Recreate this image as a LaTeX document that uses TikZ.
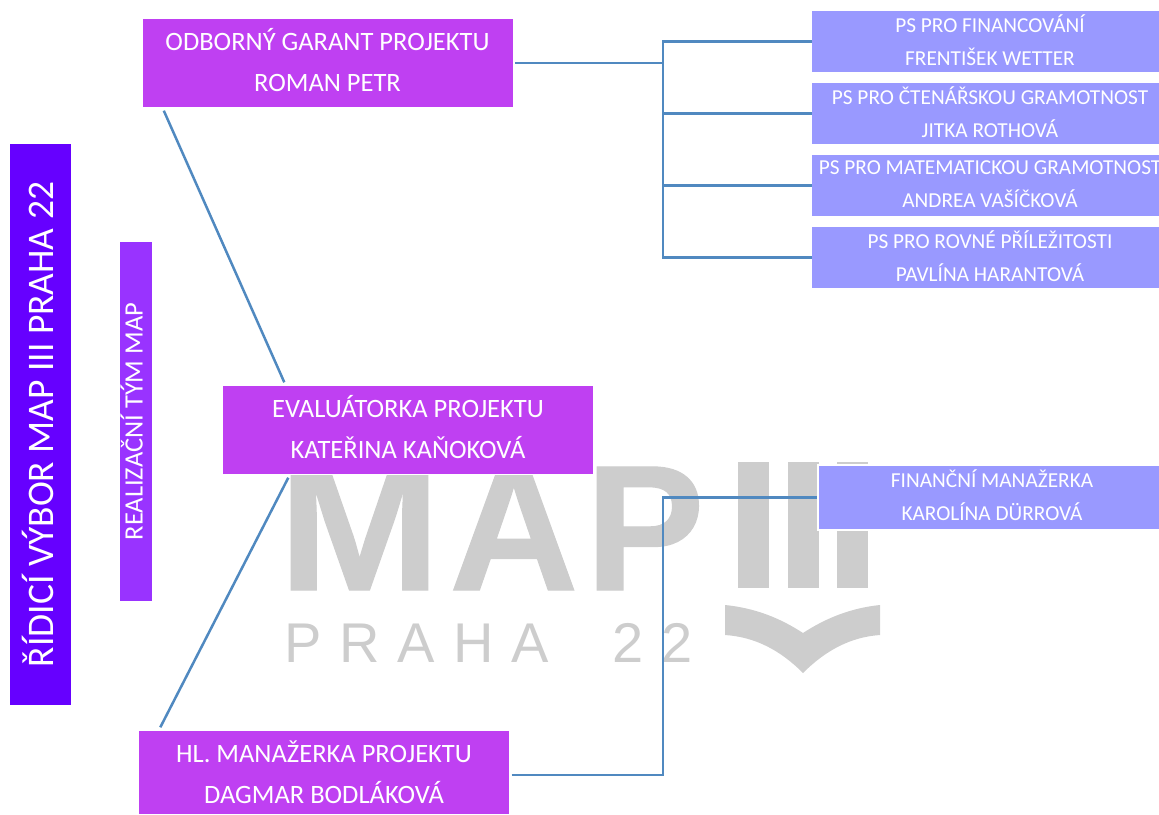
\documentclass[tikz,border=0pt]{standalone}
\usepackage{fontspec}
\setmainfont{Carlito}
\newfontfamily\logofont[BoldFeatures={FakeBold=0.6}]{Liberation Sans}
\newfontfamily\logospaced[LetterSpace=32]{Liberation Sans}
\definecolor{violet}{HTML}{6600ff}
\definecolor{lilac}{HTML}{9933ff}
\definecolor{orchid}{HTML}{bf40f2}
\definecolor{periwinkle}{HTML}{9999ff}
\definecolor{linkblue}{HTML}{5089c0}
\definecolor{logogrey}{HTML}{cdcdcd}
\tikzset{
  person/.style={fill=orchid,text=white,draw=white,line width=.4pt,inner sep=0,align=center,text depth=7pt,
    minimum width=371pt,minimum height=89pt,font=\fontsize{26.5}{41}\selectfont},
  group/.style={fill=periwinkle,text=white,inner sep=0,align=center,text depth=3pt,
    minimum width=356pt,minimum height=61pt,font=\fontsize{21.3}{33}\selectfont},
  link/.style={draw=linkblue,line width=2.5pt},
  logobar/.style={fill=logogrey,inner sep=0,minimum width=31pt,minimum height=126pt},
  logoletter/.style={anchor=base west,inner sep=0,text=logogrey,font=\logofont\bfseries\fontsize{179}{179}\selectfont}
}
\begin{document}
\begin{tikzpicture}[x=1pt,y=-1pt]
  \useasboundingbox (0,0) rectangle (1159,814);
  \clip (0,0) rectangle (1159,814);

  % logo in the background
  \node[logoletter] (logom) at (278,590) {\scalebox{1.09}[1]{M}};
  \node[logoletter] (logoa) at (449,590) {A};
  \node[logoletter] (logop) at (585,590) {P};
  \node[logobar] (logoi) at (753.5,525) {};
  \node[logobar] (logoj) at (803,525) {};
  \node[logobar] (logok) at (852,525) {};
  \node[anchor=base west,inner sep=0,text=logogrey,font=\logospaced\fontsize{56}{56}\selectfont] (logotown) at (284,662) {PRAHA\hspace{30pt} 22};
  \fill[logogrey] (725,605) .. controls (755,608) and (780,618) .. (803,633)
    .. controls (826,618) and (851,608) .. (880,605) -- (880,635)
    .. controls (851,637) and (826,650) .. (803,673)
    .. controls (780,650) and (755,637) .. (725,635) -- cycle;

  \node[fill=violet,text=white,inner sep=0,text depth=5pt,minimum width=561pt,minimum height=61pt,rotate=90,font=\fontsize{37.5}{37.5}\selectfont] (board) at (40.5,424.5) {ŘÍDICÍ VÝBOR MAP III PRAHA 22};
  \node[fill=lilac,text=white,inner sep=0,text depth=9pt,minimum width=359pt,minimum height=32pt,rotate=90,font=\fontsize{26.5}{26.5}\selectfont] (team) at (136,421.5) {REALIZAČNÍ TÝM MAP};

  \node[person] (garant) at (327.5,63) {ODBORNÝ GARANT PROJEKTU\\ROMAN PETR};
  \node[person,text depth=6pt] (evaluator) at (408,430) {EVALUÁTORKA PROJEKTU\\KATEŘINA KAŇOKOVÁ};
  \node[person,text depth=1pt,minimum height=84pt] (manager) at (324,772.5) {HL. MANAŽERKA PROJEKTU\\DAGMAR BODLÁKOVÁ};

  \node[group] (finance) at (990,41.5) {PS PRO FINANCOVÁNÍ\\FRENTIŠEK WETTER};
  \node[group] (reading) at (990,113.5) {PS PRO ČTENÁŘSKOU GRAMOTNOST\\JITKA ROTHOVÁ};
  \node[group] (maths) at (990,185.5) {PS PRO MATEMATICKOU GRAMOTNOST\\ANDREA VAŠÍČKOVÁ};
  \node[group] (equal) at (990,257.5) {PS PRO ROVNÉ PŘÍLEŽITOSTI\\PAVLÍNA HARANTOVÁ};
  \node[group,text depth=5pt,draw=white,line width=2.5pt,minimum width=348pt,minimum height=65pt] (money) at (992,497.5) {FINANČNÍ MANAŽERKA\\KAROLÍNA DÜRROVÁ};

  \coordinate (busgarant) at (663,63);
  \coordinate (busmanager) at (663,775);

  \draw[link] ([xshift=2pt]garant.east) -- (busgarant);
  \draw[link] (finance.west) -| (busgarant);
  \draw[link] (reading.west) -- (reading.west -| busgarant);
  \draw[link] (maths.west) -- (maths.west -| busgarant);
  \draw[link] (equal.west) -| (busgarant);

  \draw[link] ([xshift=2pt,yshift=-2.5pt]manager.east) -- (busmanager) |- (money.west);

  \draw[link] ([xshift=22pt,yshift=-3pt]garant.south west) -- ([xshift=62pt,yshift=3pt]evaluator.north west);
  \draw[link] ([xshift=66pt,yshift=-3pt]evaluator.south west) -- ([xshift=22pt,yshift=3pt]manager.north west);

\end{tikzpicture}
\end{document}
